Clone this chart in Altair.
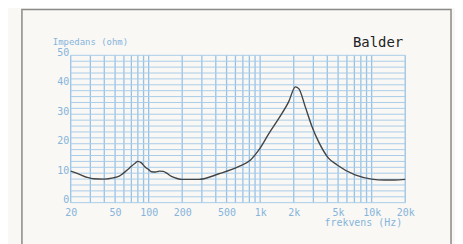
import altair as alt
import pandas as pd

# impedance curve
freq = [20, 24, 28, 32, 40, 48, 55, 67, 75, 80, 86, 92, 100, 106, 115, 125, 135, 145,
        160, 180, 200, 283, 427, 646, 820, 974, 1200, 1470, 1800, 2070, 2220, 2540,
        2920, 3340, 4100, 4900, 7100, 10000, 13000, 16000, 20000]
imp = [10.7, 9.6, 8.6, 8.1, 8.0, 8.4, 9.1, 11.7, 13.3, 14.0, 13.5, 12.3, 11.2, 10.5, 10.4,
       10.7, 10.6, 10.0, 8.9, 8.2, 7.9, 7.9, 9.8, 12.3, 14.5, 17.9, 23.5, 28.6, 34.2, 39.3,
       38.7, 32.5, 25.8, 20.7, 15.1, 12.8, 9.4, 8.0, 7.7, 7.7, 7.9]

x_grid = [20, 30, 40, 50, 60, 70, 80, 90, 100, 200, 300, 400, 500, 600, 700, 800, 900,
          1000, 2000, 3000, 4000, 5000, 6000, 7000, 8000, 9000, 10000, 20000]
y_grid = list(range(0, 51, 2))
x_labels = [20, 50, 100, 200, 500, 1000, 2000, 5000, 10000, 20000]
y_labels = [0, 10, 20, 30, 40, 50]

title = "Balder"
y_title = "Impedans (ohm)"
x_title = "frekvens (Hz)"

BLUE = "#86b4dc"
GRID = "#98c2e5"
HGRID = "#a9cdea"
FONT = "DejaVu Sans Mono"

xs = alt.Scale(type="log", domain=[20, 20000])
ys = alt.Scale(domain=[0, 50])

x_axis = alt.Axis(
    values=x_labels, title=None, domain=False, ticks=False, grid=False,
    labelFlush=False, labelPadding=5, labelColor=BLUE, labelFont=FONT, labelFontSize=10,
    labelExpr="datum.value >= 1000 ? (datum.value/1000) + 'k' : datum.value")
y_axis = alt.Axis(
    values=y_labels, title=None, domain=False, ticks=False, grid=False,
    labelPadding=2, labelColor=BLUE, labelFont=FONT, labelFontSize=10,
    labelBaseline="alphabetic")

curve = pd.DataFrame({"f": freq, "z": imp})
gx = pd.DataFrame({"f": x_grid})
gy = pd.DataFrame({"z": y_grid})
one = pd.DataFrame({"a": [0]})

frame = alt.Chart(one).mark_rect(fill=None, stroke="#8a8a8a", strokeWidth=1.5).encode(
    x=alt.value(-49), x2=alt.value(382), y=alt.value(-46), y2=alt.value(205)
)

vgrid = alt.Chart(gx).mark_rule(color=GRID, strokeWidth=1.3).encode(
    x=alt.X("f:Q", scale=xs, axis=x_axis)
)
hgrid = alt.Chart(gy).mark_rule(color=HGRID, strokeWidth=1).encode(
    y=alt.Y("z:Q", scale=ys, axis=y_axis)
)

line = alt.Chart(curve).mark_line(color="#444444", strokeWidth=1.4, interpolate="monotone").encode(
    x=alt.X("f:Q", scale=xs, axis=x_axis),
    y=alt.Y("z:Q", scale=ys, axis=y_axis),
)

t_title = alt.Chart(one).mark_text(text=title, font=FONT, fontSize=14, color="#222222",
                                   align="right", baseline="alphabetic").encode(
    x=alt.value(334), y=alt.value(-8))
t_y = alt.Chart(one).mark_text(text=y_title, font=FONT, fontSize=9, color=BLUE,
                               align="left", baseline="alphabetic").encode(
    x=alt.value(-18), y=alt.value(-10))
t_x = alt.Chart(one).mark_text(text=x_title, font=FONT, fontSize=10, color=BLUE,
                               align="right", baseline="alphabetic").encode(
    x=alt.value(333), y=alt.value(171))

chart = alt.layer(frame, vgrid, hgrid, line, t_title, t_y, t_x).properties(
    width=336, height=148,
    autosize=alt.AutoSizeParams(type="none"),
    padding={"left": 63, "top": 47, "right": 50, "bottom": 45},
    background="#f9f8f4",
).configure_view(stroke=None)

chart.save("out.html", embed_options={"renderer": "svg", "actions": False})
